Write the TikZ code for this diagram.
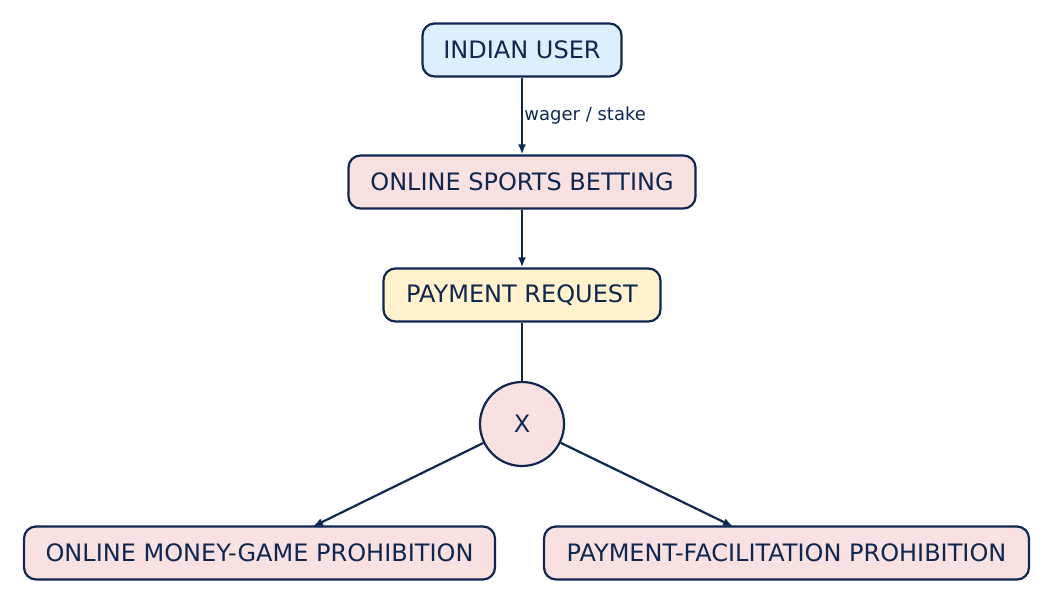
\documentclass[tikz,border=0pt]{standalone}
\usepackage{fontspec}
\setmainfont{DejaVu Sans}
\usetikzlibrary{arrows.meta}
\definecolor{ink}{HTML}{0F2750}
\definecolor{blu}{HTML}{DDEEFF}
\definecolor{pnk}{HTML}{FAE1E1}
\definecolor{yel}{HTML}{FFF2CC}
\begin{document}
\begin{tikzpicture}[x=1pt,y=-1pt,
  box/.style={draw=ink,line width=2.2pt,rounded corners=12pt,minimum height=53pt,inner sep=0pt,text=ink,font=\fontsize{24}{28}\selectfont,anchor=center},
  ed/.style={draw=ink,line width=2.2pt},
  ar/.style={ed,-{Latex[length=10pt,width=8pt]}}]
\useasboundingbox (0,0) rectangle (1053,605);
\node[box,fill=blu,minimum width=199pt] (u) at (522,50) {INDIAN USER};
\node[box,fill=pnk,minimum width=347pt] (b) at (522,182) {ONLINE SPORTS BETTING};
\node[box,fill=yel,minimum width=277pt] (p) at (522,295) {PAYMENT REQUEST};
\node[draw=ink,line width=2.2pt,circle,fill=pnk,minimum size=84pt,inner sep=0pt,text=ink,font=\fontsize{24}{28}\selectfont] (x) at (522,424) {X};
\node[box,fill=pnk,minimum width=471pt] (l) at (259.5,553) {ONLINE MONEY-GAME PROHIBITION};
\node[box,fill=pnk,minimum width=485pt] (r) at (786.5,553) {PAYMENT-FACILITATION PROHIBITION};
\draw[ar] (u) -- node[right=-2pt,text=ink,font=\fontsize{18}{20}\selectfont]{wager / stake} (b);
\draw[ar] (b) -- (p);
\draw[ed] (p) -- (x);
\draw[ar] (x) -- (313,526.5);
\draw[ar] (x) -- (733,526.5);
\end{tikzpicture}
\end{document}
